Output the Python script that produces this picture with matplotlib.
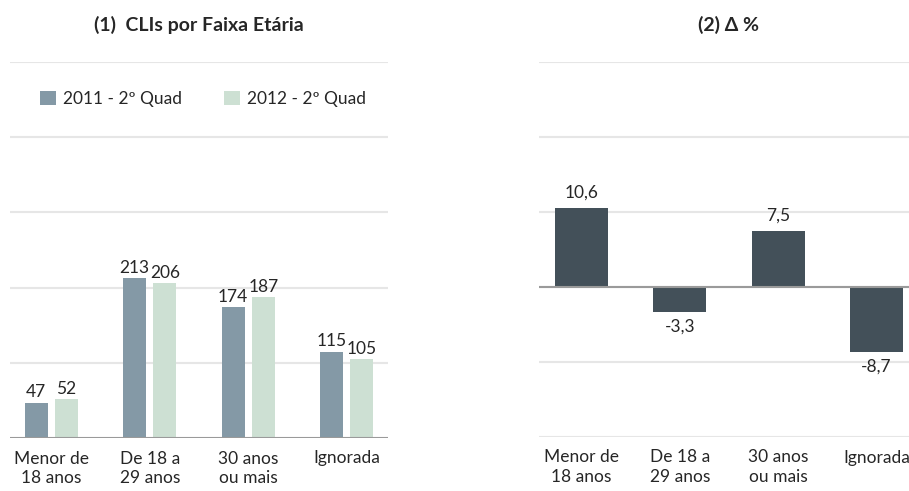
import numpy as np
import matplotlib.pyplot as plt

plt.rcParams['font.family'] = ['Lato', 'DejaVu Sans']

categories = ['Menor de\n18 anos', 'De 18 a\n29 anos', '30 anos\nou mais', 'Ignorada']
clis_2011 = [47, 213, 174, 115]
clis_2012 = [52, 206, 187, 105]
delta_pct = [10.6, -3.3, 7.5, -8.7]
series_labels = ['2011 - 2º Quad', '2012 - 2º Quad']

c2011 = '#8499a6'
c2012 = '#cde0d3'
cdelta = '#435059'
grid_c = '#e6e6e6'
base_c = '#9a9a9a'
text_c = '#262626'
fs = 12.5

W, H = 909, 491
fig = plt.figure(figsize=(W / 100, H / 100), dpi=100)

ax1 = fig.add_axes([10 / W, (H - 438) / H, 378 / W, 376 / H])
ax2 = fig.add_axes([539 / W, (H - 437) / H, 380 / W, 375 / H])

x = np.arange(len(categories))

# left panel
off = 0.153
bw = 0.235
b1 = ax1.bar(x - off, clis_2011, bw, color=c2011, label=series_labels[0], zorder=3)
b2 = ax1.bar(x + off, clis_2012, bw, color=c2012, label=series_labels[1], zorder=3)
for bars in (b1, b2):
    for r in bars:
        ax1.text(r.get_x() + r.get_width() / 2, r.get_height() + 3, f'{r.get_height():.0f}',
                 ha='center', va='bottom', fontsize=fs, color=text_c)
ax1.set_ylim(0, 500)
ax1.set_xlim(-0.42, 3.42)
ax1.set_yticks(range(100, 501, 100))
ax1.axhline(0, color=base_c, lw=1.5, zorder=4)
ax1.text(0.5, 1.075, '(1)  CLIs por Faixa Etária', transform=ax1.transAxes, ha='center',
         va='bottom', fontsize=14, fontweight='bold', color=text_c)
ax1.legend(loc='center left', bbox_to_anchor=(0.08, 0.902), ncol=2, frameon=False,
           fontsize=fs, handlelength=0.92, handleheight=0.92, columnspacing=2.4,
           handletextpad=0.4, labelcolor=text_c, borderaxespad=0, borderpad=0)

# right panel
bars = ax2.bar(x, delta_pct, 0.54, color=cdelta, zorder=3)
for r, v in zip(bars, delta_pct):
    lbl = f'{v:.1f}'.replace('.', ',')
    if v >= 0:
        ax2.text(r.get_x() + r.get_width() / 2, v + 0.9, lbl, ha='center', va='bottom',
                 fontsize=fs, color=text_c)
    else:
        ax2.text(r.get_x() + r.get_width() / 2, v - 0.9, lbl, ha='center', va='top',
                 fontsize=fs, color=text_c)
ax2.set_ylim(-20, 30)
ax2.set_xlim(-0.43, 3.43)
ax2.set_yticks(range(-20, 31, 10))
ax2.axhline(0, color=base_c, lw=1.5, zorder=4)
ax2.text(0.5, 1.075, '(2) Δ %', transform=ax2.transAxes, ha='center', va='bottom',
         fontsize=14, fontweight='bold', color=text_c)

for ax in (ax1, ax2):
    ax.set_xticks(x)
    ax.set_xticklabels(categories, fontsize=fs, color=text_c, linespacing=1.3)
    ax.tick_params(axis='x', length=0, pad=9)
    ax.tick_params(axis='y', length=0, labelleft=False)
    ax.grid(axis='y', color=grid_c, lw=1.5, zorder=0)
    for s in ax.spines.values():
        s.set_visible(False)

fig.savefig('out.png', dpi=100)
